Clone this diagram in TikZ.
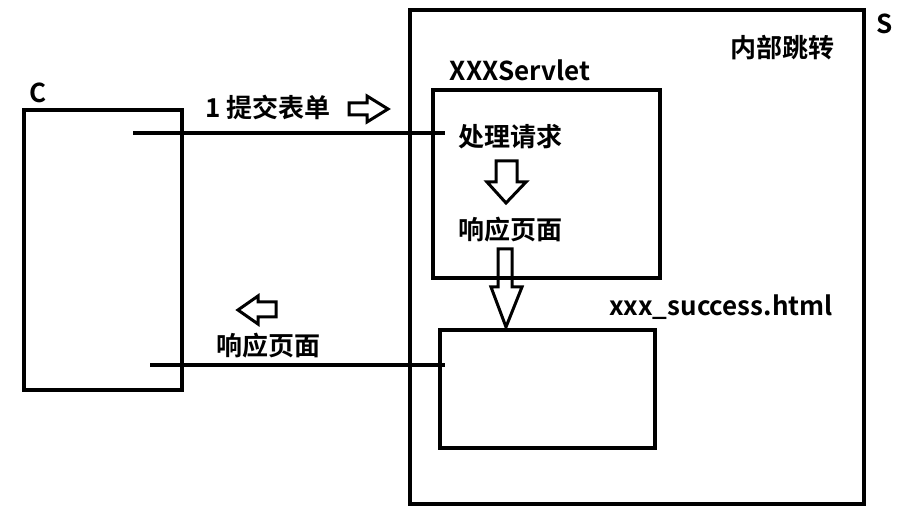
\documentclass[tikz,border=0pt]{standalone}
\usepackage{fontspec}
\setmainfont{Noto Sans CJK SC Bold}
\begin{document}
\begin{tikzpicture}[x=1pt,y=-1pt,line width=3.5pt,line join=miter,
  lbl/.style={font=\fontsize{26}{28}\selectfont,inner sep=0pt},
  hollow/.style={line width=3pt,line join=miter}]
\useasboundingbox (0,0) rectangle (910,526);
% boxes
\draw (24,110) rectangle (182,390);
\draw (410,10) rectangle (864,504);
\draw (433,90) rectangle (660,278);
\draw (440,330) rectangle (655,448);
% labels
\node[lbl] (c) at (38,93) {C};
\node[lbl] (s) at (885,24) {S};
\node[lbl] (jump) at (782,48) {内部跳转};
\node[lbl] (servlet) at (520,70) {XXXServlet};
\node[lbl] (handle) at (510,137) {处理请求};
\node[lbl] (resp) at (510,230) {响应页面};
\node[lbl] (html) at (721,307) {xxx\_success.html};
\node[lbl] (submit) at (268,107) {1 提交表单};
\node[lbl] (back) at (268,346) {响应页面};
% connectors
\coordinate (cin) at (133,133);
\coordinate (cout) at (150,365);
\coordinate (hin) at (445,133);
\coordinate (hout) at (445,365);
\draw (cin) -- (hin);
\draw (cout) -- (hout);
% hollow arrows
\draw[hollow] (349,103) -- (367,103) -- (367,96) -- (388,109) -- (367,122) -- (367,115) -- (349,115) -- cycle;
\draw[hollow] (276,302) -- (258,302) -- (258,296) -- (238,310) -- (258,324) -- (258,317) -- (276,317) -- cycle;
\draw[hollow] (496,161) -- (517,161) -- (517,182) -- (526,182) -- (506,203) -- (487,182) -- (496,182) -- cycle;
\draw[hollow] (498,249) -- (512,249) -- (512,287) -- (522,287) -- (506,327) -- (491,287) -- (498,287) -- cycle;
\end{tikzpicture}
\end{document}
